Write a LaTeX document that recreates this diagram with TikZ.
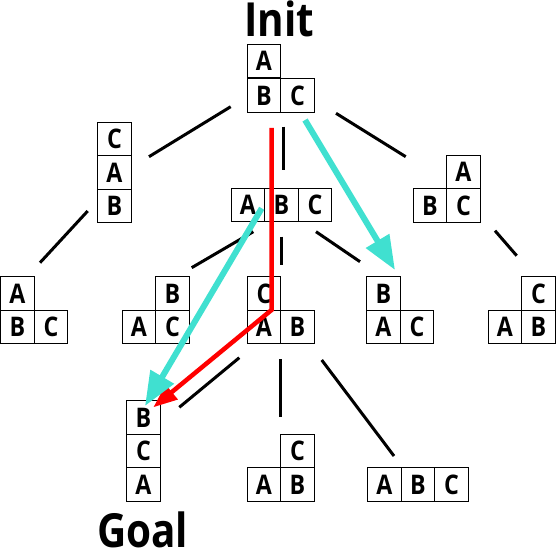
\documentclass[tikz,border=0pt]{standalone}
\usepackage{fontspec}
\setmainfont{Open Sans}[FakeStretch=0.86]
\usetikzlibrary{arrows.meta}
\definecolor{turq}{RGB}{64,224,208}
\tikzset{
  cell/.style={draw, line width=1.3pt, minimum width=33.5pt, minimum height=33.5pt,
    inner sep=0pt, anchor=center, font=\fontsize{27}{27}\selectfont\bfseries},
  title/.style={inner sep=0pt, font=\fontsize{47}{47}\selectfont\bfseries},
  edge/.style={line width=3pt},
  cyanarrow/.style={draw=turq, line width=6pt, -{Triangle[length=34pt,width=26pt]}},
  redarrow/.style={draw=red, line width=4.5pt, line join=miter, -{Triangle[length=24pt,width=18pt]}}
}
\begin{document}
\begin{tikzpicture}[x=1pt,y=-1pt]
\useasboundingbox (0,0) rectangle (556,553);
% titles
\node[title, anchor=base] (init) at (279,37) {Init};
\node[title, anchor=base west] (goal) at (97,547) {Goal};
% Init state
\node[cell] (iA) at (264,61) {A};
\node[cell] (iB) at (264,95.5) {B};
\node[cell] (iC) at (297.5,95.5) {C};
% level 1 left: C A B stack
\node[cell] (lC) at (114.5,139) {C};
\node[cell] (lA) at (114.5,172.5) {A};
\node[cell] (lB) at (114.5,206) {B};
% level 1 middle: A B C row
\node[cell] (mA) at (248,205) {A};
\node[cell] (mB) at (281.5,205) {B};
\node[cell] (mC) at (315,205) {C};
% level 1 right
\node[cell] (rA) at (463.5,172) {A};
\node[cell] (rB) at (430,205.5) {B};
\node[cell] (rC) at (463.5,205.5) {C};
% level 2
\node[cell] (aA) at (17.5,293.5) {A};
\node[cell] (aB) at (17.5,327) {B};
\node[cell] (aC) at (51,327) {C};
\node[cell] (bB) at (172.5,293.5) {B};
\node[cell] (bA) at (139,327) {A};
\node[cell] (bC) at (172.5,327) {C};
\node[cell] (cC) at (264,293.5) {C};
\node[cell] (cA) at (264,327) {A};
\node[cell] (cB) at (297.5,327) {B};
\node[cell] (dB) at (383.5,293.5) {B};
\node[cell] (dA) at (383.5,327) {A};
\node[cell] (dC) at (417,327) {C};
\node[cell] (eC) at (538.5,293.5) {C};
\node[cell] (eA) at (505,327) {A};
\node[cell] (eB) at (538.5,327) {B};
% level 3
\node[cell] (gB) at (143.5,417.5) {B};
\node[cell] (gC) at (143.5,451) {C};
\node[cell] (gA) at (143.5,484.5) {A};
\node[cell] (hC) at (297.5,451) {C};
\node[cell] (hA) at (264,484.5) {A};
\node[cell] (hB) at (297.5,484.5) {B};
\node[cell] (kA) at (384.5,484.5) {A};
\node[cell] (kB) at (418,484.5) {B};
\node[cell] (kC) at (451.5,484.5) {C};
% connector end points
\coordinate (e1a) at (230.7,106.7); \coordinate (e1b) at (149,156.7);
\coordinate (e2a) at (283.3,126.7); \coordinate (e2b) at (283.3,170);
\coordinate (e3a) at (336,113.3);   \coordinate (e3b) at (405.7,156.7);
\coordinate (e4a) at (87.7,211);    \coordinate (e4b) at (40,262.7);
\coordinate (e5a) at (253.3,231.7); \coordinate (e5b) at (191.7,267.7);
\coordinate (e6a) at (281.7,236.7); \coordinate (e6b) at (281.7,265);
\coordinate (e7a) at (316,231.7);   \coordinate (e7b) at (360,261.7);
\coordinate (e8a) at (495,230.7);   \coordinate (e8b) at (516.7,255.7);
\coordinate (e9a) at (239.3,357.7); \coordinate (e9b) at (179.3,407.3);
\coordinate (e10a) at (280,359.3);  \coordinate (e10b) at (280,417.3);
\coordinate (e11a) at (321.7,360);  \coordinate (e11b) at (394,456);
\foreach \i in {1,...,11} \draw[edge] (e\i a) -- (e\i b);
% arrows
\coordinate (r0) at (271.5,128);
\coordinate (r1) at (271.5,310);
\coordinate (r2) at (153.3,407.3);
\draw[redarrow] (r0) -- (r1) -- (r2);
\coordinate (c0) at (305,120);
\coordinate (c1) at (395,270);
\draw[cyanarrow] (c0) -- (c1);
\coordinate (c2) at (261.7,208.3);
\coordinate (c3) at (145,406);
\draw[cyanarrow] (c2) -- (c3);
\end{tikzpicture}
\end{document}
